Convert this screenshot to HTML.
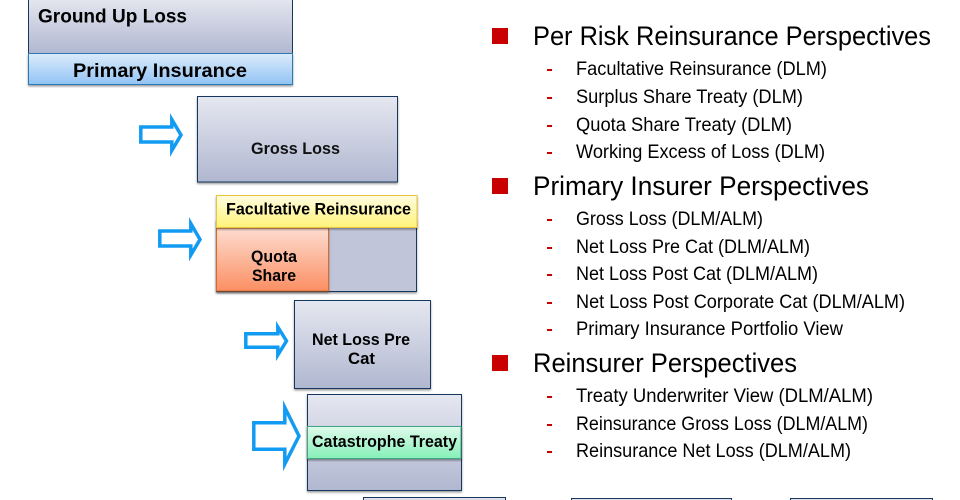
<!DOCTYPE html>
<html><head><meta charset="utf-8"><style>
html,body{margin:0;padding:0;background:#fff}
svg{display:block}
text{font-family:"Liberation Sans",sans-serif;fill:#000}
.b{font-weight:bold;font-size:17px}
.t{font-weight:bold;font-size:19.5px}
.h{font-size:27px}
.s{font-size:19.5px}
</style></head><body>
<svg width="960" height="500" viewBox="0 0 960 500" xmlns="http://www.w3.org/2000/svg">
<defs>
<linearGradient id="g" x1="0" y1="0" x2="0" y2="1"><stop offset="0" stop-color="#e5e7f0"/><stop offset="1" stop-color="#b0b7d0"/></linearGradient>
<linearGradient id="bl" x1="0" y1="0" x2="0" y2="1"><stop offset="0" stop-color="#dcebfb"/><stop offset="1" stop-color="#92c3f4"/></linearGradient>
<linearGradient id="y" x1="0" y1="0" x2="0" y2="1"><stop offset="0" stop-color="#fffde0"/><stop offset="1" stop-color="#fff27a"/></linearGradient>
<linearGradient id="o" x1="0" y1="0" x2="0" y2="1"><stop offset="0" stop-color="#fddcd0"/><stop offset="1" stop-color="#fb8f63"/></linearGradient>
<linearGradient id="gr" x1="0" y1="0" x2="0" y2="1"><stop offset="0" stop-color="#e0fbec"/><stop offset="1" stop-color="#86efb8"/></linearGradient>
<filter id="sh" x="-5%" y="-5%" width="110%" height="115%"><feDropShadow dx="0" dy="1.5" stdDeviation="1" flood-color="#000" flood-opacity=".4"/></filter>
</defs>

<!-- top box -->
<rect x="28.500" y="-2" width="264" height="56" fill="url(#g)" stroke="#17375e"/>
<rect x="28.500" y="53.500" width="264" height="31" fill="url(#bl)" stroke="#2c7ab5" filter="url(#sh)"/>
<text class="t" x="38" y="22.500" textLength="149" lengthAdjust="spacingAndGlyphs">Ground Up Loss</text>
<text class="t" x="73" y="77" textLength="174" lengthAdjust="spacingAndGlyphs">Primary Insurance</text>

<!-- gross -->
<rect x="197.500" y="96.500" width="200" height="85.500" fill="url(#g)" stroke="#17375e" filter="url(#sh)"/>
<text class="b" x="251" y="154" textLength="89" lengthAdjust="spacingAndGlyphs" style="fill:#111">Gross Loss</text>

<!-- facultative -->
<rect x="216.500" y="220" width="200" height="71.500" fill="#c0c5d9" stroke="#17375e" filter="url(#sh)"/>
<rect x="216.500" y="228" width="112" height="63" fill="url(#o)" stroke="#d9682a" filter="url(#sh)"/>
<rect x="216.500" y="195.500" width="200.500" height="32" fill="url(#y)" stroke="#e8c53c" filter="url(#sh)"/>
<text class="b" x="226" y="214.500" textLength="185" lengthAdjust="spacingAndGlyphs">Facultative Reinsurance</text>
<text class="b" x="251" y="262" textLength="46" lengthAdjust="spacingAndGlyphs">Quota</text>
<text class="b" x="252" y="281" textLength="44" lengthAdjust="spacingAndGlyphs">Share</text>

<!-- net loss -->
<rect x="294.500" y="300.500" width="136" height="88" fill="url(#g)" stroke="#17375e" filter="url(#sh)"/>
<text class="b" x="312" y="345" textLength="98" lengthAdjust="spacingAndGlyphs">Net Loss Pre</text>
<text class="b" x="348" y="364" textLength="27" lengthAdjust="spacingAndGlyphs">Cat</text>

<!-- cat -->
<rect x="307.500" y="394.500" width="154" height="96" fill="url(#g)" stroke="#17375e" filter="url(#sh)"/>
<rect x="307.500" y="426.500" width="153.500" height="32" fill="url(#gr)" stroke="#3fa583" filter="url(#sh)"/>
<text class="b" x="312" y="447" textLength="145" lengthAdjust="spacingAndGlyphs">Catastrophe Treaty</text>

<!-- bottom boxes -->
<rect x="363.500" y="497.500" width="142" height="10" fill="url(#g)" stroke="#17375e"/>
<rect x="571.500" y="498.500" width="160" height="10" fill="url(#g)" stroke="#17375e"/>
<rect x="790.500" y="498.500" width="142" height="10" fill="url(#g)" stroke="#17375e"/>

<!-- arrows -->
<g fill="#fff" stroke="#129bf2" stroke-width="3.500" stroke-linejoin="miter" stroke-miterlimit="8">
<path d="M140.800 127H171.800V119.500L181 135L171.800 150.500V142H140.800Z"/>
<path d="M159.800 231H190.800V223.500L200 239.500L190.800 255V246H159.800Z"/>
<path d="M245.800 333.800H277.800V327L286.500 341L277.800 355V347.200H245.800Z"/>
<path d="M253.800 422.800H284.800V407.500L299 436L284.800 464V449.200H253.800Z"/>
</g>

<!-- right list -->
<g fill="#c80000">
<rect x="492" y="28" width="16" height="16"/>
<rect x="492" y="178" width="16" height="16"/>
<rect x="492" y="355" width="16" height="16"/>
<rect x="547" y="69" width="5" height="2"/><rect x="547" y="97" width="5" height="2"/><rect x="547" y="125" width="5" height="2"/><rect x="547" y="152" width="5" height="2"/>
<rect x="547" y="219" width="5" height="2"/><rect x="547" y="247" width="5" height="2"/><rect x="547" y="274" width="5" height="2"/><rect x="547" y="302" width="5" height="2"/><rect x="547" y="329" width="5" height="2"/>
<rect x="547" y="396" width="5" height="2"/><rect x="547" y="424" width="5" height="2"/><rect x="547" y="451" width="5" height="2"/>
</g>
<text class="h" x="533" y="45" textLength="398" lengthAdjust="spacingAndGlyphs">Per Risk Reinsurance Perspectives</text>
<text class="s" x="576" y="75" textLength="251" lengthAdjust="spacingAndGlyphs">Facultative Reinsurance (DLM)</text>
<text class="s" x="576" y="103" textLength="227" lengthAdjust="spacingAndGlyphs">Surplus Share Treaty (DLM)</text>
<text class="s" x="576" y="131" textLength="216" lengthAdjust="spacingAndGlyphs">Quota Share Treaty (DLM)</text>
<text class="s" x="576" y="158" textLength="249" lengthAdjust="spacingAndGlyphs">Working Excess of Loss (DLM)</text>
<text class="h" x="533" y="195" textLength="336" lengthAdjust="spacingAndGlyphs">Primary Insurer Perspectives</text>
<text class="s" x="576" y="225" textLength="187" lengthAdjust="spacingAndGlyphs">Gross Loss (DLM/ALM)</text>
<text class="s" x="576" y="253" textLength="234" lengthAdjust="spacingAndGlyphs">Net Loss Pre Cat (DLM/ALM)</text>
<text class="s" x="576" y="280" textLength="242" lengthAdjust="spacingAndGlyphs">Net Loss Post Cat (DLM/ALM)</text>
<text class="s" x="576" y="308" textLength="329" lengthAdjust="spacingAndGlyphs">Net Loss Post Corporate Cat (DLM/ALM)</text>
<text class="s" x="576" y="335" textLength="267" lengthAdjust="spacingAndGlyphs">Primary Insurance Portfolio View</text>
<text class="h" x="533" y="372" textLength="264" lengthAdjust="spacingAndGlyphs">Reinsurer Perspectives</text>
<text class="s" x="576" y="402" textLength="297" lengthAdjust="spacingAndGlyphs">Treaty Underwriter View (DLM/ALM)</text>
<text class="s" x="576" y="430" textLength="292" lengthAdjust="spacingAndGlyphs">Reinsurance Gross Loss (DLM/ALM)</text>
<text class="s" x="576" y="457" textLength="275" lengthAdjust="spacingAndGlyphs">Reinsurance Net Loss (DLM/ALM)</text>
</svg>
</body></html>
